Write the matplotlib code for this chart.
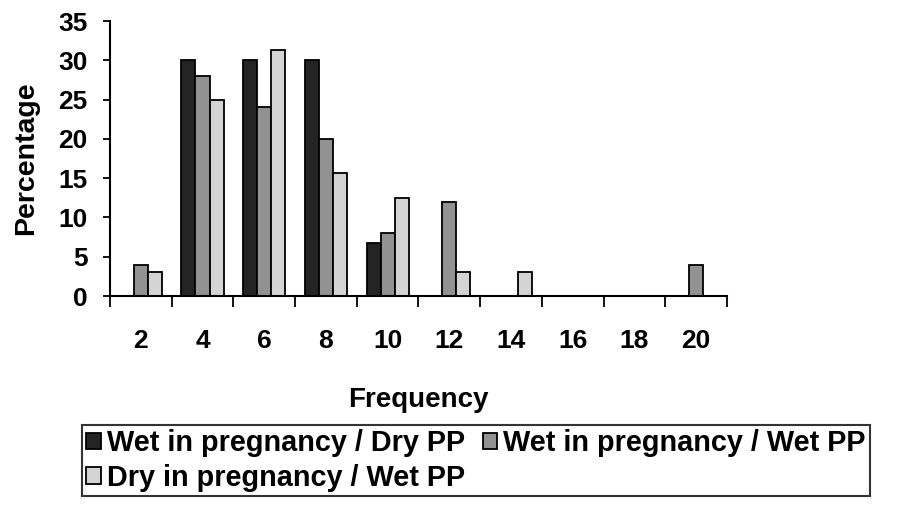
import matplotlib.pyplot as plt
import numpy as np

plt.rcParams['font.family'] = ['Liberation Sans', 'DejaVu Sans']
plt.rcParams['font.weight'] = 'bold'

freq = ["2", "4", "6", "8", "10", "12", "14", "16", "18", "20"]
wet_dry = [0, 30, 30, 30, 6.7, 0, 0, 0, 0, 0]
wet_wet = [4, 28, 24, 20, 8, 12, 0, 0, 0, 4]
dry_wet = [3.1, 25, 31.3, 15.6, 12.5, 3.1, 3.1, 0, 0, 0]
labels = ["Wet in pregnancy / Dry PP", "Wet in pregnancy / Wet PP",
          "Dry in pregnancy / Wet PP"]
colors = ["#242424", "#929292", "#d4d4d4"]

fig = plt.figure(figsize=(8.97, 5.15), dpi=100)
ax = fig.add_axes([0.1226, 0.4252, 0.6879, 0.534])

x = np.arange(len(freq))
w = 0.228
handles = []
for i, (vals, lab, c) in enumerate(zip([wet_dry, wet_wet, dry_wet], labels, colors)):
    v = np.array(vals, dtype=float)
    h = np.where(v > 0, v, np.nan)
    b = ax.bar(x + (i - 1) * w, h, w, color=c, edgecolor="black", linewidth=1.3, label=lab)
    handles.append(b)

ax.set_xlim(-0.5, len(freq) - 0.5)
ax.set_ylim(0, 35)
ax.set_yticks(np.arange(0, 36, 5))
ax.set_xticks(x)
ax.set_xticklabels(freq)
ax.set_xticks(np.arange(-0.5, len(freq), 1), minor=True)
ax.tick_params(axis='x', which='major', length=0, pad=24, labelsize=19)
ax.tick_params(axis='x', which='minor', length=8, width=1.3, direction='out')
ax.tick_params(axis='y', length=5, width=1.3, labelsize=19, pad=11)
for s in ['top', 'right']:
    ax.spines[s].set_visible(False)
for s in ['left', 'bottom']:
    ax.spines[s].set_linewidth(1.5)

ax.set_xlabel("Frequency", fontsize=20, fontweight='bold', labelpad=24)
ax.set_ylabel("Percentage", fontsize=20.5, fontweight='bold', labelpad=14)

# row-major order: matplotlib fills legend columns first
order = [0, 2, 1]
leg = fig.legend([handles[k] for k in order], [labels[k] for k in order],
                 loc='upper left', bbox_to_anchor=(0.0914, 0.1748), ncol=2,
                 fontsize=20.8, frameon=True, fancybox=False, edgecolor='black',
                 handlelength=0.5, handleheight=0.5, handletextpad=0.22,
                 columnspacing=0.6, borderpad=0.15, borderaxespad=0, labelspacing=0.22)
leg.get_frame().set_linewidth(1.5)

fig.savefig("out.png", dpi=100)
